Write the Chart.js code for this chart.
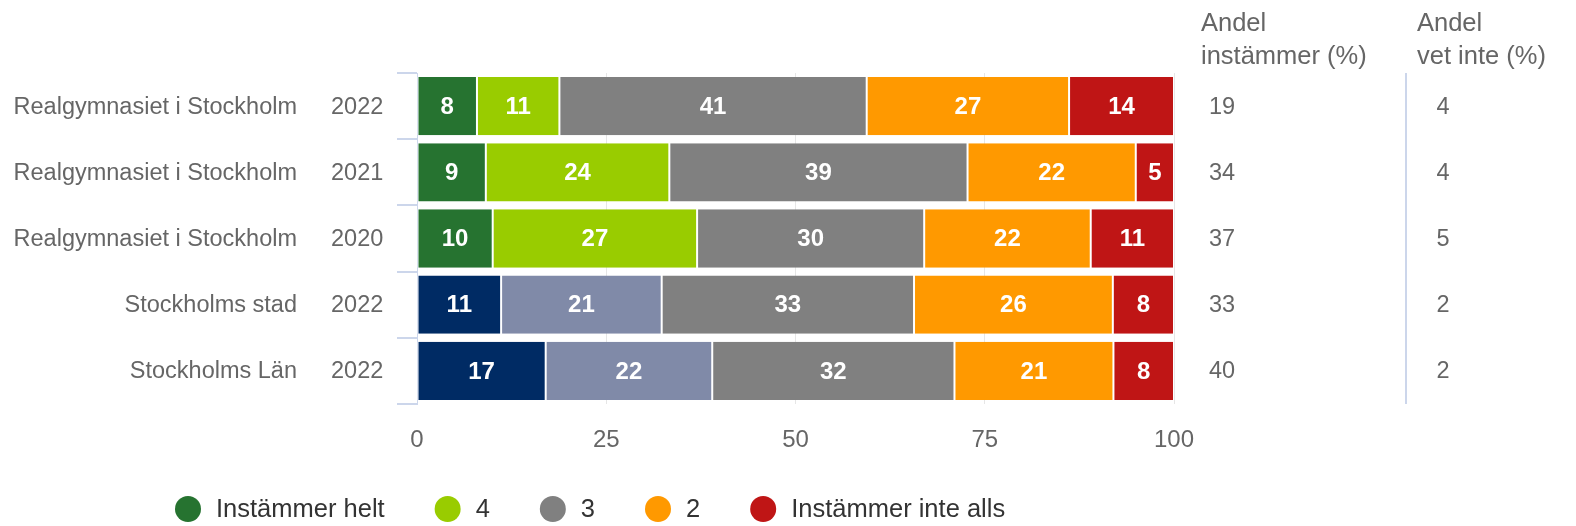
<!DOCTYPE html>
<html>
<head>
<meta charset="utf-8">
<script src="https://cdn.jsdelivr.net/npm/chart.js@4/dist/chart.umd.min.js"></script>
<style>
    html, body { margin: 0; padding: 0; background: #fff; }
</style>
</head>
<body>
<canvas id="myChart" width="1576" height="526"></canvas>
<script>
const rowNames = ["Realgymnasiet i Stockholm", "Realgymnasiet i Stockholm", "Realgymnasiet i Stockholm", "Stockholms stad", "Stockholms Län"];
const rowYears = ["2022", "2021", "2020", "2022", "2022"];
const seriesNames = ["Instämmer helt", "4", "3", "2", "Instämmer inte alls"];
const instammerHelt = [8, 9, 10, 11, 17];
const fyra = [11, 24, 27, 21, 22];
const tre = [41, 39, 30, 33, 32];
const tva = [27, 22, 22, 26, 21];
const instammerInteAlls = [14, 5, 11, 8, 8];
const andelInstammer = [19, 34, 37, 33, 40];
const andelVetInte = [4, 4, 5, 2, 2];
const xTicks = [0, 25, 50, 75, 100];

const seriesColors = ["#267330", "#99cc00", "#808080", "#ff9900", "#bf1515"];
const compareColors = ["#002b64", "#808aa8", "#808080", "#ff9900", "#bf1515"];
const compareRows = [3, 4];

const font = "'Liberation Sans', Arial, sans-serif";
const allSeries = [instammerHelt, fyra, tre, tva, instammerInteAlls];

// Each row is shown as share of its own total (percent stacking).
const rowSums = rowNames.map((n, i) => allSeries.reduce((s, arr) => s + arr[i], 0));

const datasets = allSeries.map((values, k) => ({
    label: seriesNames[k],
    raw: values,
    data: values.map((v, i) => v / rowSums[i] * 100),
    backgroundColor: rowNames.map((n, i) => compareRows.includes(i) ? compareColors[k] : seriesColors[k]),
    borderColor: "#ffffff",
    borderWidth: {left: 1, right: 1, top: 0, bottom: 0},
    borderSkipped: false,
    categoryPercentage: 1,
    barPercentage: 0.88
}));

const extrasPlugin = {
    id: "extras",
    afterDatasetsDraw(chart) {
        const ctx = chart.ctx;
        const area = chart.chartArea;
        const yScale = chart.scales.y;

        // Value labels inside the bars.
        ctx.save();
        ctx.font = "bold 24px " + font;
        ctx.fillStyle = "#ffffff";
        ctx.textAlign = "center";
        ctx.textBaseline = "middle";
        chart.data.datasets.forEach((ds, k) => {
            chart.getDatasetMeta(k).data.forEach((bar, i) => {
                ctx.fillText(String(ds.raw[i]), (bar.x + bar.base) / 2, bar.y + 1);
            });
        });
        ctx.restore();

        // Row names and years on the left.
        ctx.save();
        ctx.font = "23.5px " + font;
        ctx.fillStyle = "#666666";
        ctx.textBaseline = "middle";
        rowNames.forEach((name, i) => {
            const y = yScale.getPixelForValue(i) + 1;
            ctx.textAlign = "right";
            ctx.fillText(name, 297, y);
            ctx.textAlign = "left";
            ctx.fillText(rowYears[i], 331, y);
        });

        // Extra columns on the right.
        ctx.font = "25.5px " + font;
        ctx.textAlign = "left";
        ctx.fillText("Andel", 1201, 24);
        ctx.fillText("instämmer (%)", 1201, 57);
        ctx.fillText("Andel", 1417, 24);
        ctx.fillText("vet inte (%)", 1417, 57);
        ctx.font = "23.5px " + font;
        rowNames.forEach((name, i) => {
            const y = yScale.getPixelForValue(i) + 1;
            ctx.textAlign = "left";
            ctx.fillText(String(andelInstammer[i]), 1209, y);
            ctx.textAlign = "center";
            ctx.fillText(String(andelVetInte[i]), 1443, y);
        });

        ctx.strokeStyle = "#ccd6eb";
        ctx.lineWidth = 2;
        ctx.beginPath();
        ctx.moveTo(1406, area.top);
        ctx.lineTo(1406, area.bottom);
        ctx.stroke();
        ctx.restore();

        // Legend.
        ctx.save();
        ctx.font = "25.5px " + font;
        ctx.textBaseline = "middle";
        ctx.textAlign = "left";
        let cx = 188;
        const ly = 509;
        chart.data.datasets.forEach((ds, k) => {
            ctx.fillStyle = seriesColors[k];
            ctx.beginPath();
            ctx.arc(cx, ly, 13, 0, Math.PI * 2);
            ctx.fill();
            ctx.fillStyle = "#333333";
            ctx.fillText(ds.label, cx + 28, ly + 1);
            cx += 28 + ctx.measureText(ds.label).width + 50 + 13;
        });
        ctx.restore();
    }
};

new Chart("myChart", {
    type: "bar",
    data: {
        labels: rowNames,
        datasets: datasets
    },
    options: {
        indexAxis: "y",
        responsive: false,
        animation: false,
        layout: {padding: {top: 73, right: 402, left: 0, bottom: 0}},
        scales: {
            x: {
                stacked: true,
                min: 0,
                max: 100,
                afterBuildTicks: (scale) => { scale.ticks = xTicks.map(v => ({value: v})); },
                afterFit: (scale) => { scale.height = 122; },
                grid: {color: "#e6e6e6", drawTicks: false},
                border: {display: false},
                ticks: {
                    padding: 22,
                    color: "#666666",
                    font: {family: font, size: 24}
                }
            },
            y: {
                stacked: true,
                afterFit: (scale) => { scale.width = 417; },
                grid: {color: "#ccd6eb", drawOnChartArea: false, tickLength: 20, lineWidth: 2},
                border: {color: "#ccd6eb", width: 1},
                ticks: {display: false}
            }
        },
        plugins: {
            legend: {display: false},
            tooltip: {enabled: false}
        }
    },
    plugins: [extrasPlugin]
});
</script>
</body>
</html>
